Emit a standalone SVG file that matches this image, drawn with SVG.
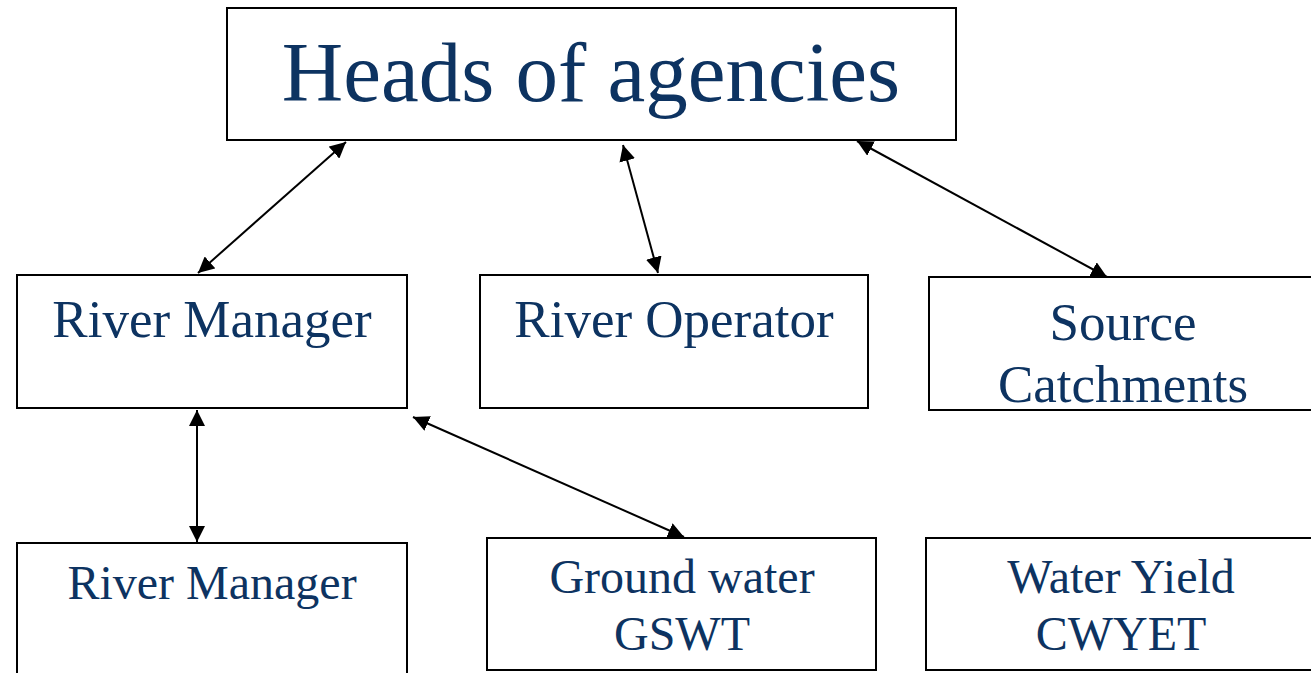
<svg xmlns="http://www.w3.org/2000/svg" width="1311" height="673" viewBox="0 0 1311 673">
<style>
.box{fill:#fff;stroke:#000;stroke-width:2}
.t{font-family:"Liberation Serif",serif;fill:#0d3361;text-anchor:middle}
.c{stroke:#000;stroke-width:2;fill:none;marker-start:url(#ah);marker-end:url(#ah)}
</style>
<defs>
<marker id="ah" viewBox="0 0 10 10" refX="10" refY="5" markerWidth="16" markerHeight="16" markerUnits="userSpaceOnUse" orient="auto-start-reverse">
<path d="M0,0 L10,5 L0,10 z" fill="#000"/>
</marker>
</defs>
<rect width="1311" height="673" fill="#fff"/>
<g id="heads"><rect class="box" x="227" y="8" width="729" height="132"/><text class="t" x="591" y="101" font-size="85">Heads of agencies</text></g>
<g id="river-manager-top"><rect class="box" x="17" y="275" width="390" height="133"/><text class="t" x="212" y="337" font-size="53">River Manager</text></g>
<g id="river-operator"><rect class="box" x="480" y="275" width="388" height="133"/><text class="t" x="674" y="337" font-size="53">River Operator</text></g>
<g id="source-catchments"><rect class="box" x="929" y="277" width="390" height="133"/><text class="t" x="1123" y="340" font-size="53">Source</text><text class="t" x="1123" y="402" font-size="53">Catchments</text></g>
<g id="river-manager-bottom"><rect class="box" x="17" y="543" width="390" height="140"/><text class="t" x="212" y="599" font-size="48">River Manager</text></g>
<g id="ground-water"><rect class="box" x="487" y="538" width="389" height="132"/><text class="t" x="682" y="593" font-size="48">Ground water</text><text class="t" x="682" y="650" font-size="48">GSWT</text></g>
<g id="water-yield"><rect class="box" x="926" y="538" width="393" height="132"/><text class="t" x="1121" y="593" font-size="48">Water Yield</text><text class="t" x="1121" y="650" font-size="48">CWYET</text></g>
<g id="connectors">
<line class="c" x1="346" y1="142" x2="198" y2="273"/>
<line class="c" x1="623" y1="145" x2="658" y2="273"/>
<line class="c" x1="857" y1="141" x2="1107" y2="277"/>
<line class="c" x1="197" y1="410" x2="197" y2="542"/>
<line class="c" x1="413" y1="417" x2="684" y2="537"/>
</g>
</svg>
